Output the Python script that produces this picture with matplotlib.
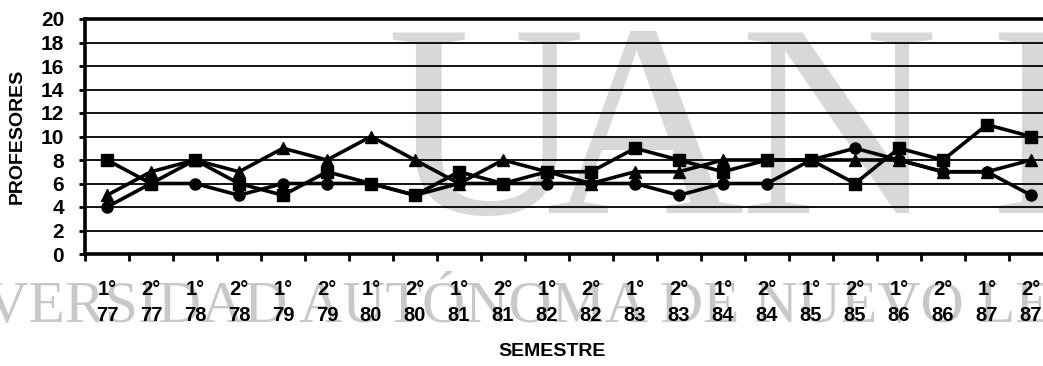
import matplotlib
matplotlib.use("Agg")
import matplotlib.pyplot as plt
import numpy as np

# ---- data ----
semesters = ["1°", "2°"] * 11
years = ["77", "77", "78", "78", "79", "79", "80", "80", "81", "81", "82",
         "82", "83", "83", "84", "84", "85", "85", "86", "86", "87", "87"]
tick_labels = [f"{s}\n{y}" for s, y in zip(semesters, years)]

serie_cuadro = [8, 6, 8, 6, 5, 7, 6, 5, 7, 6, 7, 7, 9, 8, 7, 8, 8, 6, 9, 8, 11, 10]
serie_triangulo = [5, 7, 8, 7, 9, 8, 10, 8, 6, 8, 7, 6, 7, 7, 8, 8, 8, 8, 8, 7, 7, 8]
serie_circulo = [4, 6, 6, 5, 6, 6, 6, 5, 6, 6, 6, 6, 6, 5, 6, 6, 8, 9, 8, 7, 7, 5]

y_ticks = list(range(0, 21, 2))

W, H = 1043, 366
fig = plt.figure(figsize=(W / 100, H / 100), dpi=100)
fig.patch.set_facecolor("white")

# ---- watermark (background) ----
wm_big = "#d8d8d8"
wm_small = "#c8c8c8"
for letter, xc in [("U", 486), ("A", 645), ("N", 838)]:
    fig.text(xc / W, 1 - 213 / H, letter, ha="center", va="baseline",
             fontsize=198, family="Liberation Serif", color=wm_big, zorder=-2)
fig.text(990 / W, 1 - 213 / H, "L", ha="left", va="baseline",
         fontsize=198, family="Liberation Serif", color=wm_big, zorder=-2)
fig.text(-121 / W, 1 - 322 / H, "UNIVERSIDAD AUTÓNOMA DE NUEVO LEÓN",
         ha="left", va="baseline", fontsize=43, family="Liberation Serif",
         color=wm_small, zorder=-2)

# ---- axes ----
left, right, top, bottom = 85, 1053, 19, 254
ax = fig.add_axes([left / W, 1 - bottom / H, (right - left) / W, (bottom - top) / H])
ax.patch.set_visible(False)

x = np.arange(len(tick_labels))
lw = 2.6
ms = 8
ax.plot(x, serie_cuadro, color="black", lw=lw, marker="s", ms=ms, zorder=5)
ax.plot(x, serie_triangulo, color="black", lw=lw, marker="^", ms=ms + 1, zorder=5)
ax.plot(x, serie_circulo, color="black", lw=lw, marker="o", ms=ms, zorder=5)

ax.set_xlim(-0.5, len(x) - 0.5)
ax.set_ylim(0, 20)

for yv in y_ticks[1:-1]:
    ax.axhline(yv, color="black", lw=1.3, zorder=1)

for s in ["left", "top", "bottom"]:
    ax.spines[s].set_linewidth(2.6)
    ax.spines[s].set_color("black")
ax.spines["right"].set_visible(False)

ax.set_yticks(y_ticks)
ax.set_yticklabels([str(v) for v in y_ticks], fontsize=15, fontweight="bold",
                   family="Liberation Sans")
ax.tick_params(axis="y", direction="out", length=4, width=2, pad=11)

ax.set_xticks(x)
ax.set_xticklabels(tick_labels, fontsize=14.5, fontweight="bold",
                   family=["Liberation Sans Narrow", "DejaVu Sans Condensed",
                           "Liberation Sans"],
                   linespacing=1.45)
ax.tick_params(axis="x", which="major", length=0, pad=19)
ax.set_xticks(np.arange(-0.5, len(x), 1.0), minor=True)
ax.tick_params(axis="x", which="minor", direction="out", length=5, width=2)

ax.set_ylabel("PROFESORES", fontsize=14, fontweight="bold",
              family="Liberation Sans")
ax.yaxis.set_label_coords(-59 / (right - left), 0.5)
ax.set_xlabel("SEMESTRE", fontsize=14, fontweight="bold",
              family=["Liberation Sans Narrow", "DejaVu Sans Condensed",
                      "Liberation Sans"])
ax.xaxis.set_label_coords((552 - left) / (right - left), -(343 - bottom) / (bottom - top))

fig.savefig("out.png", dpi=100)
